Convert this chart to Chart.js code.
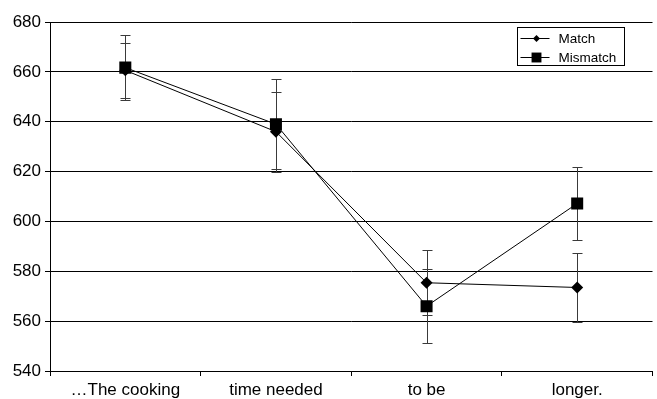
<!DOCTYPE html>
<html lang="en">
<head>
    <meta charset="UTF-8">
    <title>Match / Mismatch</title>
    <style>
        html, body { margin: 0; padding: 0; background: #fff; overflow: hidden; }
        .wrap { width: 657px; height: 399px; overflow: hidden; }
    </style>
</head>
<body>
    <div class="wrap">
        <canvas id="myChart" width="661" height="399"></canvas>
    </div>

<script src="https://cdn.jsdelivr.net/npm/chart.js/dist/chart.umd.min.js"></script>
<script>
    // dados
    const categorias = ['\u2026The cooking', 'time needed', 'to be', 'longer.'];
    const yMin = 540;
    const yMax = 680;
    const yPasso = 20;

    const matchVals = [660.6, 636, 575.4, 573.5];
    const matchErr = [11, 16, 13, 14];
    const mismatchVals = [661.7, 639, 566, 607.2];
    const mismatchErr = [13, 18, 14.8, 14.8];

    const fonte = "'Liberation Sans', Arial, sans-serif";

    // barras de erro desenhadas pelas escalas do chart
    const errorBars = {
        id: 'errorBars',
        beforeDatasetsDraw(chart) {
            const ctx = chart.ctx;
            const y = chart.scales.y;
            ctx.save();
            ctx.strokeStyle = '#3a3a3a';
            ctx.lineWidth = 1;
            chart.data.datasets.forEach((ds, i) => {
                const meta = chart.getDatasetMeta(i);
                meta.data.forEach((pt, j) => {
                    const x = Math.round(pt.x) + 0.5;
                    const top = Math.round(y.getPixelForValue(ds.data[j] + ds.erros[j])) + 0.5;
                    const bot = Math.round(y.getPixelForValue(ds.data[j] - ds.erros[j])) + 0.5;
                    ctx.beginPath();
                    ctx.moveTo(x, top);
                    ctx.lineTo(x, bot);
                    ctx.moveTo(x - 5, top);
                    ctx.lineTo(x + 5, top);
                    ctx.moveTo(x - 5, bot);
                    ctx.lineTo(x + 5, bot);
                    ctx.stroke();
                });
            });
            ctx.restore();
        }
    };

    // legenda dentro da área do gráfico
    const legendaBox = {
        id: 'legendaBox',
        afterDraw(chart) {
            const ctx = chart.ctx;
            const x0 = 517.5, y0 = 27.5, w = 107, h = 38;
            ctx.save();
            ctx.fillStyle = '#fff';
            ctx.fillRect(x0, y0, w, h);
            ctx.strokeStyle = '#000';
            ctx.lineWidth = 1;
            ctx.strokeRect(x0, y0, w, h);
            ctx.font = '13.5px ' + fonte;
            ctx.textBaseline = 'middle';
            const tamanhos = [3.5, 7];
            chart.data.datasets.forEach((ds, i) => {
                const ly = Math.round(y0 + 10 + i * 19) + 0.5;
                ctx.strokeStyle = '#000';
                ctx.fillStyle = '#000';
                ctx.beginPath();
                ctx.moveTo(x0 + 3, ly);
                ctx.lineTo(x0 + 32, ly);
                ctx.stroke();
                Chart.helpers.drawPoint(ctx, {
                    pointStyle: ds.pointStyle,
                    radius: tamanhos[i],
                    borderWidth: 0,
                    rotation: 0
                }, x0 + 19, ly);
                ctx.fillStyle = '#000';
                ctx.fillText(ds.label, x0 + 41, ly + 1);
            });
            ctx.restore();
        }
    };

    const ctx = document.getElementById('myChart');

    let grafico = new Chart(ctx, {
        type: 'line',
        data: {
            labels: categorias,
            datasets: [{
                label: 'Match',
                data: matchVals,
                erros: matchErr,
                borderColor: '#000',
                backgroundColor: '#000',
                borderWidth: 1,
                pointStyle: 'rectRot',
                pointRadius: 6,
                pointBorderWidth: 0,
                pointBackgroundColor: '#000',
                tension: 0
            }, {
                label: 'Mismatch',
                data: mismatchVals,
                erros: mismatchErr,
                borderColor: '#000',
                backgroundColor: '#000',
                borderWidth: 1,
                pointStyle: 'rect',
                pointRadius: 8.5,
                pointBorderWidth: 0,
                pointBackgroundColor: '#000',
                tension: 0
            }]
        },
        options: {
            responsive: false,
            animation: false,
            devicePixelRatio: 1,
            layout: {
                padding: { top: 22, right: 0, left: 0, bottom: 0 }
            },
            plugins: {
                legend: { display: false },
                tooltip: { enabled: false }
            },
            scales: {
                x: {
                    offset: true,
                    grid: {
                        offset: true,
                        drawOnChartArea: false,
                        color: '#000',
                        tickLength: 5
                    },
                    border: { color: '#000', width: 1 },
                    ticks: {
                        color: '#000',
                        font: { family: fonte, size: 17 },
                        padding: 4,
                        maxRotation: 0
                    },
                    afterFit(scale) { scale.height = 28; }
                },
                y: {
                    min: yMin,
                    max: yMax,
                    grid: {
                        color: '#000',
                        tickLength: 5
                    },
                    border: { color: '#000', width: 1 },
                    ticks: {
                        stepSize: yPasso,
                        color: '#000',
                        font: { family: fonte, size: 17 },
                        padding: 4
                    },
                    afterFit(scale) { scale.width = 50; }
                }
            }
        },
        plugins: [errorBars, legendaBox]
    });
</script>
</body>
</html>
